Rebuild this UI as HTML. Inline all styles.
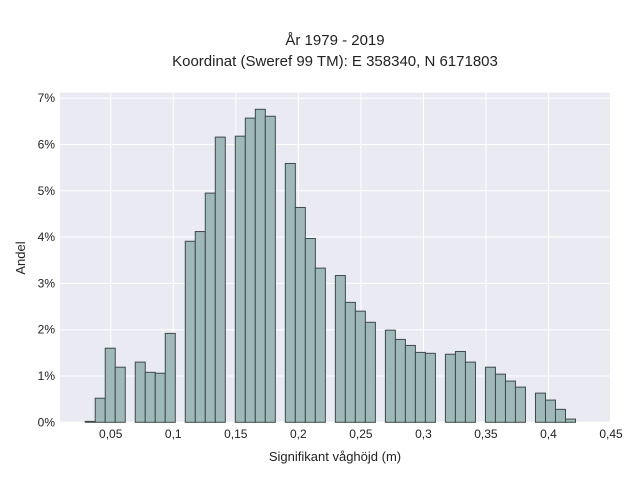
<!DOCTYPE html>
<html><head><meta charset="utf-8"><style>
body{margin:0;background:#fff;}
svg{display:block;font-family:"Liberation Sans",sans-serif;}
</style></head><body>
<svg id="chart" width="640" height="480">
<text x="335" y="45" text-anchor="middle" font-size="15" fill="#222">År 1979 - 2019</text>
<text x="335" y="66" text-anchor="middle" font-size="15" fill="#222">Koordinat (Sweref 99 TM): E 358340, N 6171803</text>
<rect x="60" y="92.7" width="550" height="329.6" fill="#eaeaf2"/>
<g id="grid"></g><g id="bars"></g><g id="ticks"></g>
<text x="335" y="461" text-anchor="middle" font-size="13" fill="#222">Signifikant våghöjd (m)</text>
<text transform="translate(25,258) rotate(-90)" text-anchor="middle" font-size="13" fill="#222">Andel</text>
</svg>
<script>
const binStart = 0.0296;
const binWidth = 0.008;
const binValues = [0.02,0.52,1.60,1.19,0,1.30,1.08,1.06,1.92,0,3.91,4.12,4.95,6.16,0,6.18,6.57,6.76,6.61,0,5.59,4.64,3.97,3.33,0,3.17,2.59,2.40,2.16,0,1.99,1.79,1.66,1.51,1.49,0,1.47,1.53,1.30,0,1.19,1.04,0.89,0.76,0,0.63,0.48,0.28,0.07];
const xTicks = [0.05,0.1,0.15,0.2,0.25,0.3,0.35,0.4,0.45];
const xTickLabels = ["0,05","0,1","0,15","0,2","0,25","0,3","0,35","0,4","0,45"];
const yTicks = [0,1,2,3,4,5,6,7];
const yTickLabels = ["0%","1%","2%","3%","4%","5%","6%","7%"];
const NS="http://www.w3.org/2000/svg";
const x = v => 48.2 + v*1250.7;
const y = v => 422.3 - v*46.3;
function mk(tag, attrs, parent){const e=document.createElementNS(NS,tag);for(const k in attrs)e.setAttribute(k,attrs[k]);parent.appendChild(e);return e;}
const grid=document.getElementById('grid'), bars=document.getElementById('bars'), ticks=document.getElementById('ticks');
xTicks.forEach((t,i)=>{
  const l=mk('line',{x1:x(t),x2:x(t),y1:92.7,y2:422.3,stroke:'#fff','stroke-width':1},grid);
  
  
  const tx=mk('text',{x:x(t),y:438,'text-anchor':'middle','font-size':12,fill:'#222'},ticks);
  tx.textContent=xTickLabels[i];
  
  
});
yTicks.forEach((t,i)=>{
  const l=mk('line',{x1:60,x2:610,y1:y(t),y2:y(t),stroke:'#fff','stroke-width':1},grid);
  
  
  const tx=mk('text',{x:55,y:y(t)+4,'text-anchor':'end','font-size':12,fill:'#222'},ticks);
  tx.textContent=yTickLabels[i];
  
  
});
binValues.forEach((v,i)=>{
  if(v<=0) return;
  const x0=x(binStart+i*binWidth), x1=x(binStart+(i+1)*binWidth);
  const r=mk('rect',{x:x0,y:y(v),width:x1-x0,height:y(0)-y(v),fill:'#9fb8b8',stroke:'#3d4a4a','stroke-width':1},bars);
  
  
});
</script>
</body></html>
